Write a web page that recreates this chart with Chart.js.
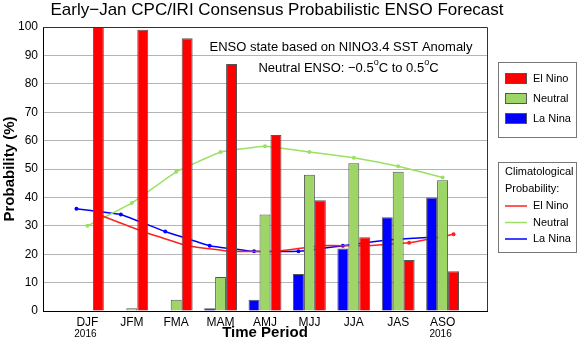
<!DOCTYPE html>
<html>
<head>
<meta charset="utf-8">
<script src="https://cdn.jsdelivr.net/npm/chart.js@4"></script>
<style>
  html, body { margin: 0; padding: 0; background: #fff; }
  canvas { display: block; }
</style>
</head>
<body>
<canvas id="myChart" width="577" height="342"></canvas>
<script>
const periods = ['DJF', 'JFM', 'FMA', 'MAM', 'AMJ', 'MJJ', 'JJA', 'JAS', 'ASO'];
const yearLabels = ['2016', '', '', '', '', '', '', '', '2016'];

// forecast probabilities (%)
const elNino  = [100, 99, 96, 87, 62, 39, 26, 18, 14];
const neutral = [0, 1, 4, 12, 34, 48, 52, 49, 46];
const laNina  = [0, 0, 0, 1, 4, 13, 22, 33, 40];

// climatological probabilities (%)
const climElNino  = [34, 28, 23, 21, 21, 23, 23, 24, 27];
const climNeutral = [30, 38, 49, 56, 58, 56, 54, 51, 47];
const climLaNina  = [36, 34, 28, 23, 21, 21, 23, 25, 26];

const RED = '#ff0000', GREEN = '#9dd666', BLUE = '#0000ff';
const FONT = "'Liberation Sans', Arial, sans-serif";
const catPct = 0.74;
const shift = catPct / 3;   // one bar width in axis units

const bars = vals => vals.map((v, i) => ({x: i + 1, y: v}));
const pts = (vals, off) => vals.map((v, i) => ({x: i + 1 + off, y: v}));

function barSet(label, vals, color) {
  return {
    label, data: bars(vals), backgroundColor: color, order: 1,
    borderColor: '#555', borderWidth: 1, categoryPercentage: catPct, barPercentage: 1
  };
}

function lineSet(label, vals, off, color) {
  return {
    type: 'line', label, data: pts(vals, off), order: 2,
    borderColor: color, backgroundColor: color, borderWidth: 1.5,
    pointRadius: 2, pointBorderWidth: 0, tension: 0.08, fill: false
  };
}

const decor = {
  id: 'decor',
  afterDraw(chart) {
    const {ctx, chartArea: a, scales} = chart;
    ctx.save();
    // frame top/right
    ctx.strokeStyle = '#333';
    ctx.lineWidth = 1;
    ctx.beginPath();
    ctx.moveTo(a.left, a.top + 0.5); ctx.lineTo(a.right + 0.5, a.top + 0.5);
    ctx.lineTo(a.right + 0.5, a.bottom);
    ctx.stroke();

    ctx.fillStyle = '#000';
    // title
    ctx.font = '17px ' + FONT;
    ctx.textAlign = 'center'; ctx.textBaseline = 'middle';
    ctx.fillText('Early\u2212Jan CPC/IRI Consensus Probabilistic ENSO Forecast', 277, 10);

    // year sublabels
    ctx.font = '10px ' + FONT;
    yearLabels.forEach((t, i) => {
      if (t) ctx.fillText(t, scales.x.getPixelForValue(i + 1) - 2, 334);
    });

    // notes
    ctx.font = '13px ' + FONT;
    ctx.fillText('ENSO state based on NINO3.4 SST Anomaly', 341, 47);
    const parts = [['Neutral ENSO: \u22120.5', 0], ['o', 1], ['C to 0.5', 0], ['o', 1], ['C', 0]];
    let w = 0;
    parts.forEach(([t, s]) => { ctx.font = (s ? '9px ' : '13px ') + FONT; w += ctx.measureText(t).width; });
    let x = 348.5 - w / 2;
    ctx.textAlign = 'left';
    parts.forEach(([t, s]) => {
      ctx.font = (s ? '9px ' : '13px ') + FONT;
      ctx.fillText(t, x, s ? 63 : 68);
      x += ctx.measureText(t).width;
    });

    // legend boxes
    ctx.strokeStyle = '#777';
    ctx.strokeRect(498.5, 62.5, 78, 75);
    ctx.strokeRect(498.5, 162.5, 78, 90);
    ctx.font = '11px ' + FONT;
    ctx.textBaseline = 'middle';
    const barSets = chart.data.datasets.filter(d => d.type !== 'line').reverse();
    barSets.forEach((d, i) => {
      const y = 73.5 + i * 20;
      ctx.fillStyle = d.backgroundColor;
      ctx.fillRect(505.5, y, 21, 10);
      ctx.strokeStyle = '#555';
      ctx.strokeRect(505.5, y, 21, 10);
      ctx.fillStyle = '#000';
      ctx.fillText(d.label, 533, y + 5);
    });
    ctx.fillText('Climatological', 505, 172);
    ctx.fillText('Probability:', 505, 189);
    const lineSets = chart.data.datasets.filter(d => d.type === 'line');
    lineSets.forEach((d, i) => {
      const y = 206 + i * 16.5;
      ctx.strokeStyle = d.borderColor;
      ctx.lineWidth = 1.5;
      ctx.beginPath(); ctx.moveTo(505, y); ctx.lineTo(527, y); ctx.stroke();
      ctx.fillStyle = '#000';
      ctx.fillText(d.label, 533, y);
    });
    ctx.restore();
  }
};

Chart.defaults.font.family = FONT;
Chart.defaults.color = '#000';

new Chart('myChart', {
  type: 'bar',
  data: {
    datasets: [
      barSet('La Nina', laNina, BLUE),
      barSet('Neutral', neutral, GREEN),
      barSet('El Nino', elNino, RED),
      lineSet('El Nino', climElNino, shift, '#ff2020'),
      lineSet('Neutral', climNeutral, 0, '#9be062'),
      lineSet('La Nina', climLaNina, -shift, BLUE)
    ]
  },
  options: {
    responsive: false,
    animation: false,
    layout: {padding: {top: 27, right: 90, left: 0, bottom: 0}},
    plugins: {legend: {display: false}, tooltip: {enabled: false}},
    scales: {
      x: {
        type: 'linear', min: 0, max: 10, offset: false,
        grid: {display: false, drawTicks: false},
        border: {color: '#000'},
        ticks: {
          stepSize: 1, autoSkip: false, maxRotation: 0, padding: 4,
          font: {size: 12},
          callback: v => periods[v - 1] || ''
        },
        title: {display: true, text: 'Time Period', font: {size: 15, weight: 'bold'}, padding: 0},
        afterFit: s => { s.height = 31; }
      },
      y: {
        min: 0, max: 100,
        grid: {color: '#b4b4b4', drawTicks: false},
        border: {color: '#000'},
        ticks: {stepSize: 10, padding: 5, font: {size: 12}},
        title: {display: true, text: 'Probability (%)', font: {size: 15, weight: 'bold'}, padding: {top: 1}},
        afterFit: s => { s.width = 43; }
      }
    }
  },
  plugins: [decor]
});
</script>
</body>
</html>
